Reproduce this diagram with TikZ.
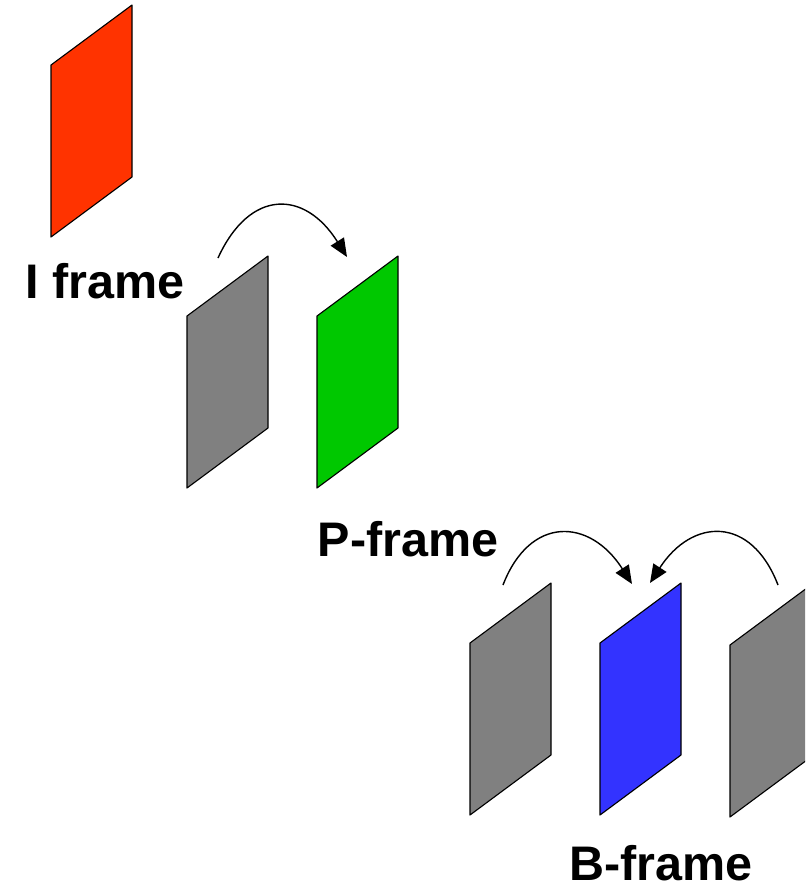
\documentclass[tikz,border=0pt]{standalone}
\usepackage{fontspec}
\setmainfont{Liberation Sans}
\usetikzlibrary{arrows.meta}

\definecolor{iframe}{RGB}{255,51,0}
\definecolor{pframe}{RGB}{0,200,0}
\definecolor{bframe}{RGB}{51,51,255}
\definecolor{refgray}{RGB}{128,128,128}

\begin{document}
\begin{tikzpicture}[x=0.025cm,y=-0.025cm,
  frm/.style={draw=black,line width=0.8pt,line join=round},
  lbl/.style={font=\fontsize{34.5}{40}\selectfont\bfseries,anchor=base,inner sep=0pt},
  pred/.style={-{Triangle[length=13pt,width=11pt]},line width=1pt}]
\useasboundingbox (0,0) rectangle (805,890);
\clip (0,0) rectangle (805,890);

% Frames: left edge x, top-right y, fill
\foreach \x/\y/\c in {51/5/iframe, 187/256/refgray, 317/256/pframe,
                      470/583/refgray, 600/583/bframe, 730/585/refgray}
  \filldraw[frm,fill=\c] (\x,\y+60) -- (\x+81,\y) -- (\x+81,\y+172)
    -- (\x,\y+232) -- cycle;

% Labels
\node[lbl] (ilbl) at (105,298) {I frame};
\node[lbl] (plbl) at (408,556) {P-frame};
\node[lbl] (blbl) at (661,880) {B-frame};

% Prediction arrows
\coordinate (p0) at (218,258);
\coordinate (p1) at (347,257);
\coordinate (b0) at (503,585);
\coordinate (b1) at (632,584);
\coordinate (b2) at (778,585);
\coordinate (b3) at (650,583);
\draw[pred] (p0) .. controls (250,188) and (305,190) .. (p1);
\draw[pred] (b0) .. controls (530,515) and (590,518) .. (b1);
\draw[pred] (b2) .. controls (751,515) and (692,518) .. (b3);
\end{tikzpicture}
\end{document}
